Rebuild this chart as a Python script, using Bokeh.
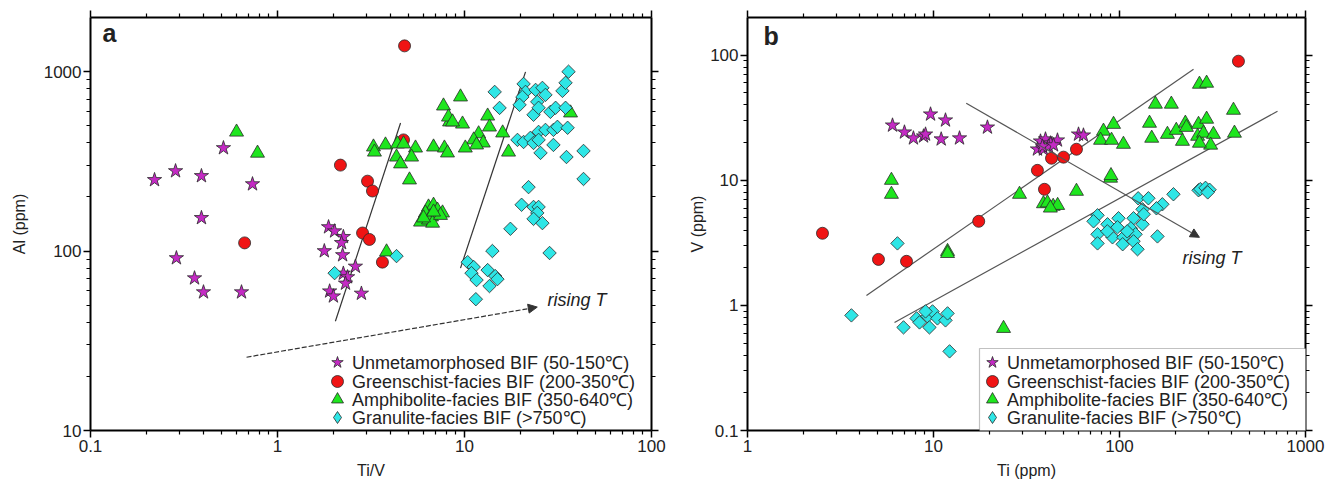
from bokeh.plotting import figure
from bokeh.layouts import row
from bokeh.models import (LogAxis, FixedTicker, CustomJSTickFormatter, Legend, LegendItem,
                          Label, Arrow, NormalHead, BoxAnnotation)
from bokeh.embed import file_html
from bokeh.resources import INLINE

# ---------------- data : panel a (Ti/V vs Al) ----------------
a_unmet_x = [0.22, 0.285, 0.392, 0.514, 0.735, 0.392, 0.288, 0.36, 0.402, 0.642, 1.875, 2.02, 2.25, 2.2,
             1.78, 2.23, 2.61, 2.25, 2.37, 2.31, 1.9, 1.99, 2.81]
a_unmet_y = [249, 279, 262, 375, 236, 153, 91.4, 70.6, 59, 59, 136, 129, 120, 111,
             100, 95, 82, 75, 71.6, 66, 59.7, 56, 58]

a_green_x = [0.667, 2.17, 3.03, 3.22, 2.85, 3.10, 3.64, 4.72, 4.78]
a_green_y = [111, 301, 245, 216, 126, 116, 86.7, 416, 1390]

a_amph_x = [0.604, 0.782, 8.32, 9.76, 7.72, 9.52, 8.21, 8.63, 13.3, 13.6, 11.9, 11.2, 12.6, 10.1, 11.6,
            16.0, 17.2, 36.9, 3.26, 3.78, 4.38, 4.72, 5.47, 6.83, 7.81, 8.11, 4.33, 4.55, 5.21, 5.08,
            3.30, 3.83, 6.42, 6.83, 7.17, 7.63, 6.18, 6.66, 5.82, 6.42, 6.75, 7.44, 6.04, 6.83]
a_amph_y = [460, 351, 524, 510, 643, 722, 558, 524, 565, 491, 450, 416, 400, 375, 390,
            455, 356, 588, 380, 390, 395, 395, 375, 380, 375, 352, 334, 306, 334, 249,
            356, 98.9, 176, 180, 169, 163, 163, 155, 145, 149, 143, 158, 153, 165]

a_gran_x = [2.02, 4.33, 14.5, 15.4, 20.7, 21.2, 20.4, 19.7, 24.0, 26.1, 27.1, 24.5, 23.4, 24.9, 28.8,
            30.7, 34.7, 33.4, 34.7, 36.0, 19.2, 20.7, 22.5, 23.4, 24.9, 24.9, 27.1, 29.9, 31.4, 35.6,
            25.5, 29.9, 35.1, 43.3, 43.3, 22.0, 20.2, 23.4, 24.9, 24.5, 23.4, 26.1, 17.6, 28.5, 14.1,
            13.3, 14.6, 10.4, 11.2, 10.9, 11.6, 15.0, 13.6, 11.5]
a_gran_y = [75.3, 93.7, 770, 627, 853, 770, 722, 652, 790, 811, 741, 678, 574, 628, 596,
            628, 628, 780, 865, 998, 416, 405, 427, 400, 461, 416, 473, 473, 492, 486,
            352, 390, 334, 361, 252, 227, 181, 176, 176, 163, 151, 143, 133, 97.5, 100,
            78.3, 72.5, 86.7, 81.4, 75.3, 68.9, 69.7, 63.8, 53.9]

a_line1_x = [2.04, 4.55]
a_line1_y = [40.6, 517]
a_line2_x = [9.52, 21.2]
a_line2_y = [80.3, 995]
a_arrow_x = [0.683, 24.5]
a_arrow_y = [25.6, 48.7]
a_note_xy = [27.8, 53.3]

# ---------------- data : panel b (Ti vs V) ----------------
b_unmet_x = [6.02, 6.98, 7.80, 8.84, 9.06, 9.64, 11.6, 11.0, 13.8, 19.5, 37.6, 40.0, 42.6, 46.4,
             36.2, 39.0, 41.5, 38.5, 44.2, 60.2, 64.0]
b_unmet_y = [27.5, 24.2, 21.7, 22.5, 23.3, 33.7, 30.2, 21.3, 21.7, 26.5, 20.5, 21.3, 19.8, 20.9,
             17.7, 17.7, 18.7, 18.7, 19.1, 23.3, 22.9]

b_green_x = [2.53, 5.06, 7.16, 17.5, 36.2, 39.5, 43.1, 50.0, 58.7, 436]
b_green_y = [3.77, 2.33, 2.25, 4.70, 12.0, 8.47, 15.0, 15.3, 17.7, 89.5]

b_amph_x = [5.94, 5.94, 29.0, 11.9, 11.9, 23.8, 39.0, 41.0, 44.0, 46.5, 42.5, 58.7, 89.5, 90.0,
            82.0, 92.9, 79.1, 90.6, 105, 156, 190, 145, 149, 181, 202, 218, 226, 229, 266, 294,
            263, 283, 320, 309, 269, 269, 294, 410, 415]
b_amph_y = [10.0, 7.73, 7.73, 2.70, 2.60, 0.655, 6.5, 6.6, 6.2, 6.3, 6.0, 8.17, 10.4, 10.9,
            24.7, 28.0, 20.9, 20.9, 19.4, 40.6, 40.6, 28.6, 21.7, 23.3, 25.1, 20.5, 28.6, 26.5, 28.0, 30.8,
            22.5, 23.8, 23.3, 19.1, 19.8, 58.6, 59.7, 36.3, 23.8]

b_gran_x = [6.40, 3.62, 6.90, 8.11, 8.41, 9.29, 9.88, 9.51, 10.5, 11.6, 11.9, 12.2, 9.06,
            126, 143, 170, 195, 158, 133, 119, 76.2, 86.2, 98.8, 72.5, 97.5, 115, 122, 133, 160,
            76.2, 76.2, 91.7, 105, 104, 119, 125, 110, 86, 135, 266, 272, 290, 305, 298]
b_gran_y = [3.13, 0.832, 0.667, 0.787, 0.731, 0.817, 0.895, 0.667, 0.787, 0.759, 0.863, 0.429, 0.895,
            7.18, 7.18, 6.43, 7.73, 5.97, 5.86, 4.97, 5.25, 4.45, 4.97, 4.70, 4.21, 4.13, 3.70, 4.45, 3.56,
            3.70, 3.13, 3.50, 3.50, 3.08, 3.25, 2.81, 3.91, 3.91, 5.35, 8.32, 8.5, 8.7, 8.4, 8.0]

b_line1_x = [4.36, 250]
b_line1_y = [1.20, 77.3]
b_line2_x = [6.17, 707]
b_line2_y = [0.731, 35.6]
b_arrow_x = [15.0, 269]
b_arrow_y = [41.3, 3.50]
b_note_xy = [218, 2.38]

labels = ["Unmetamorphosed BIF (50-150\u2103)", "Greenschist-facies BIF (200-350\u2103)",
          "Amphibolite-facies BIF (350-640\u2103)", "Granulite-facies BIF (>750\u2103)"]

a_xticks = [0.1, 1, 10, 100]
a_yticks = [10, 100, 1000]
b_xticks = [1, 10, 100, 1000]
b_yticks = [0.1, 1, 10, 100]

FONT = "Liberation Sans"
EDGE = "#2a2a2a"
C_STAR = "#C42AC4"
C_RED = "#F01414"
C_GREEN = "#1EE61E"
C_CYAN = "#2EE6E6"

# legend layout (screen offsets from the frame's bottom-left corner)
ROW_BOTTOMS = [50, 31, 13, -5]
GLYPH_W = 30
GLYPH_H = 36


def minors(majors):
    out = []
    for m in majors[:-1]:
        out += [m * k for k in range(2, 10)]
    return out


def style_axis(ax, labels_on=True):
    ax.axis_line_width = 2
    ax.axis_line_color = "black"
    ax.major_tick_line_width = 1.5
    ax.minor_tick_line_width = 1.2
    ax.major_tick_line_color = "black"
    ax.minor_tick_line_color = "black"
    ax.major_tick_in = 0
    ax.major_tick_out = 7
    ax.minor_tick_in = 0
    ax.minor_tick_out = 4
    ax.major_label_text_font = FONT
    ax.major_label_text_font_size = "17px"
    ax.major_label_text_color = "#222222"
    ax.axis_label_text_font = FONT
    ax.axis_label_text_font_size = "16px"
    ax.axis_label_text_font_style = "normal"
    ax.axis_label_text_color = "#222222"
    ax.major_label_standoff = 2
    ax.axis_label_standoff = 7
    if labels_on:
        ax.formatter = CustomJSTickFormatter(code="return tick.toString()")
    else:
        ax.formatter = CustomJSTickFormatter(code="return ''")
        ax.major_label_standoff = 0


def make_panel(xr, yr, xt, yt, xlabel, ylabel, width, bl, br, ylab_standoff):
    p = figure(width=width, height=487, x_axis_type="log", y_axis_type="log",
               x_range=xr, y_range=yr, output_backend="svg", toolbar_location=None,
               min_border_left=bl, min_border_right=br, min_border_top=17, min_border_bottom=57)
    p.grid.visible = False
    p.outline_line_color = None
    p.background_fill_color = "white"
    p.border_fill_color = "white"
    xtk = FixedTicker(ticks=xt, minor_ticks=minors(xt))
    ytk = FixedTicker(ticks=yt, minor_ticks=minors(yt))
    p.xaxis.ticker = xtk
    p.yaxis.ticker = ytk
    p.xaxis.axis_label = xlabel
    p.yaxis.axis_label = ylabel
    style_axis(p.xaxis[0])
    style_axis(p.yaxis[0])
    p.yaxis.axis_label_standoff = ylab_standoff
    top = LogAxis(ticker=xtk)
    right = LogAxis(ticker=ytk)
    style_axis(top, False)
    style_axis(right, False)
    p.add_layout(top, "above")
    p.add_layout(right, "right")
    return p


STYLES = [dict(marker="star", size=15, fill_color=C_STAR),
          dict(marker="circle", size=12, fill_color=C_RED),
          dict(marker="triangle", size=14, fill_color=C_GREEN),
          dict(marker="square", angle=0.785398, size=9.5, fill_color=C_CYAN)]


def add_points(p, sx, sy):
    # diamond-shaped copy of the granulite series, drawn first and fully hidden under the
    # rotated squares; it only supplies the legend swatch (legend glyphs ignore angle)
    swatch = p.scatter(sx[3], sy[3], marker="diamond", size=11, fill_color=C_CYAN,
                       line_color=EDGE, line_width=0.8)
    rs = []
    for i in range(4):
        rs.append(p.scatter(sx[i], sy[i], line_color=EDGE, line_width=0.8, **STYLES[i]))
    rs[3] = swatch
    return rs


def add_legend(p, renderers, x0):
    # one single-row legend per series so that rows can sit closer than the glyph box
    for i in range(4):
        p.add_layout(Legend(items=[LegendItem(label=labels[i], renderers=[renderers[i]])],
                            location=(x0, ROW_BOTTOMS[i]), padding=0, margin=0, spacing=0,
                            glyph_width=GLYPH_W, glyph_height=GLYPH_H, label_height=18,
                            label_standoff=0, label_text_font=FONT,
                            label_text_font_size="18px", label_text_color="#222222",
                            border_line_color=None, background_fill_alpha=0), "center")


# ---------------- panel a ----------------
pa = make_panel((0.1, 100), (10, 2000), a_xticks, a_yticks, "Ti/V", "Al (ppm)", 676, 90, 25, 13)
pa.line(a_line1_x, a_line1_y, line_color="#333333", line_width=1.2)
pa.line(a_line2_x, a_line2_y, line_color="#333333", line_width=1.2)
pa.add_layout(Arrow(x_start=a_arrow_x[0], y_start=a_arrow_y[0], x_end=a_arrow_x[1], y_end=a_arrow_y[1],
                    line_color="#333333", line_width=1.2, line_dash="5 2",
                    end=NormalHead(size=9, fill_color="#333333", line_color="#333333")))
ra = add_points(pa, [a_unmet_x, a_green_x, a_amph_x, a_gran_x], [a_unmet_y, a_green_y, a_amph_y, a_gran_y])
pa.add_layout(Label(x=a_note_xy[0], y=a_note_xy[1], text="rising T", text_font=FONT,
                    text_font_size="18px", text_font_style="italic", text_baseline="middle",
                    text_color="#222222"))
pa.add_layout(Label(x=12, y=398, x_units="screen", y_units="screen", text="a", text_font=FONT,
                    text_font_size="25px", text_font_style="bold", text_baseline="middle",
                    text_color="#222222"))
add_legend(pa, ra, 232)

# ---------------- panel b ----------------
pb = make_panel((1, 1000), (0.1, 200), b_xticks, b_yticks, "Ti (ppm)", "V (ppm)", 655, 71, 26, 1)
pb.line(b_line1_x, b_line1_y, line_color="#555555", line_width=1.2)
pb.line(b_line2_x, b_line2_y, line_color="#555555", line_width=1.2)
pb.add_layout(Arrow(x_start=b_arrow_x[0], y_start=b_arrow_y[0], x_end=b_arrow_x[1], y_end=b_arrow_y[1],
                    line_color="#555555", line_width=1.2,
                    end=NormalHead(size=9, fill_color="#333333", line_color="#333333")))
rb = add_points(pb, [b_unmet_x, b_green_x, b_amph_x, b_gran_x], [b_unmet_y, b_green_y, b_amph_y, b_gran_y])
pb.add_layout(Label(x=b_note_xy[0], y=b_note_xy[1], text="rising T", text_font=FONT,
                    text_font_size="18px", text_font_style="italic", text_baseline="middle",
                    text_color="#222222"))
pb.add_layout(Label(x=16, y=395, x_units="screen", y_units="screen", text="b", text_font=FONT,
                    text_font_size="25px", text_font_style="bold", text_baseline="middle",
                    text_color="#222222"))
pb.add_layout(BoxAnnotation(left=232, right=600, bottom=-2, top=82, left_units="screen",
                            right_units="screen", top_units="screen", bottom_units="screen",
                            fill_color="white", fill_alpha=1, line_color="#333333",
                            line_width=1.2, propagate_hover=False))
add_legend(pb, rb, 230)

layout = row(pa, pb)
open("out.html", "w").write(file_html(layout, INLINE))
